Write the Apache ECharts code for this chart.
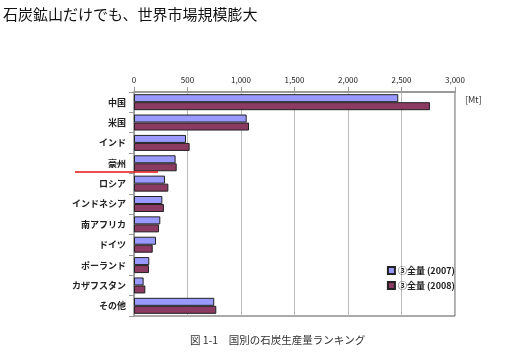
<!DOCTYPE html>
<html>
<head>
<meta charset="utf-8">
<script src="https://cdn.jsdelivr.net/npm/echarts@6/dist/echarts.min.js"></script>
<style>
  html, body { margin: 0; padding: 0; background: #fff; }
  #chart { width: 511px; height: 354px; }
</style>
</head>
<body>
<div id="chart"></div>
<script>
const categories = ['中国', '米国', 'インド', '豪州', 'ロシア', 'インドネシア', '南アフリカ', 'ドイツ', 'ポーランド', 'カザフスタン', 'その他'];
const values2007 = [2470, 1053, 486, 389, 290, 265, 246, 206, 143, 90, 750];
const values2008 = [2766, 1075, 520, 399, 321, 280, 234, 175, 140, 106, 769];
const seriesNames = ['③全量 (2007)', '③全量 (2008)'];

const font = '"Noto Sans CJK JP", "Noto Sans", sans-serif';
const chart = echarts.init(document.getElementById('chart'));

chart.setOption({
  animation: false,
  title: {
    text: '石炭鉱山だけでも、世界市場規模膨大',
    left: -2,
    top: 2,
    textStyle: { fontFamily: font, fontSize: 15, fontWeight: 'normal', color: '#111' }
  },
  graphic: [
    {
      type: 'text',
      left: 190,
      top: 335,
      style: { text: '図 1-1　国別の石炭生産量ランキング', font: '10.5px ' + font, fill: '#333' }
    },
    {
      type: 'text',
      left: 465,
      top: 95,
      style: { text: '[Mt]', font: '9px ' + font, fill: '#333' }
    },
    {
      type: 'line',
      shape: { x1: 75, y1: 172, x2: 158, y2: 172 },
      style: { stroke: '#e81010', lineWidth: 1.5 },
      z: 100
    }
  ],
  legend: {
    orient: 'vertical',
    right: 51,
    top: 261,
    itemWidth: 7,
    itemHeight: 7,
    itemGap: 6,
    icon: 'rect',
    textStyle: { fontFamily: font, fontSize: 9, fontWeight: 'bold', color: '#222', padding: [0, 0, 0, -2] },
    data: seriesNames
  },
  grid: {
    left: 134,
    top: 92,
    right: 56,
    bottom: 38,
    show: true,
    borderColor: '#555',
    borderWidth: 1
  },
  xAxis: {
    type: 'value',
    position: 'top',
    min: 0,
    max: 3000,
    interval: 500,
    axisLine: { show: true, lineStyle: { color: '#999', width: 2 } },
    axisTick: { show: true, lineStyle: { color: '#999' } },
    axisLabel: {
      fontFamily: font,
      fontSize: 8,
      color: '#222',
      margin: 8,
      formatter: v => v.toLocaleString('en-US')
    },
    splitLine: { show: true, lineStyle: { color: '#bbb', width: 1 } }
  },
  yAxis: {
    type: 'category',
    inverse: true,
    data: categories,
    axisLine: { show: true, lineStyle: { color: '#999', width: 1 } },
    axisTick: { show: true, lineStyle: { color: '#999' } },
    axisLabel: { fontFamily: font, fontSize: 9, fontWeight: 'bold', color: '#222', margin: 8 }
  },
  series: [
    {
      name: seriesNames[0],
      type: 'bar',
      data: values2007,
      barWidth: 8,
      barGap: '0%',
      itemStyle: { color: '#9999ff', borderColor: '#222', borderWidth: 1 }
    },
    {
      name: seriesNames[1],
      type: 'bar',
      data: values2008,
      barWidth: 8,
      itemStyle: { color: '#8b3a62', borderColor: '#222', borderWidth: 1 }
    }
  ]
});
</script>
</body>
</html>
